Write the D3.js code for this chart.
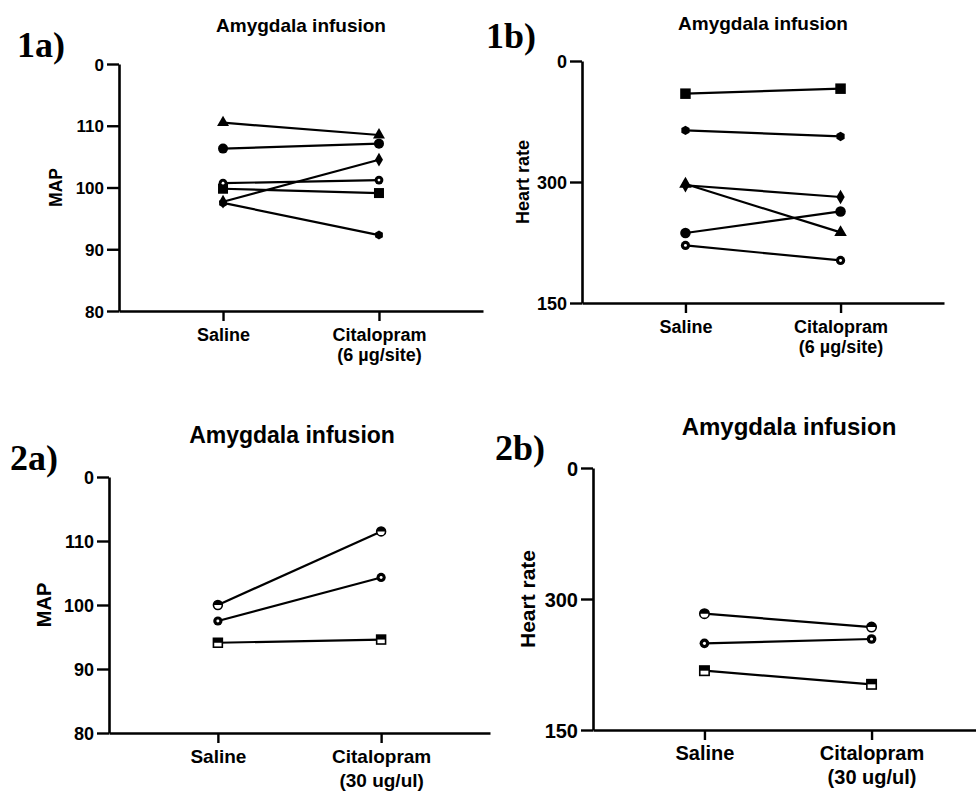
<!DOCTYPE html>
<html><head><meta charset="utf-8">
<script src="https://cdn.jsdelivr.net/npm/d3@7"></script>
<style>body{margin:0;background:#fff} svg{display:block}</style>
</head><body><svg id="fig" width="976" height="791"></svg>
<script>
// Treatment groups on the x axis
const treatments = ["Saline", "Citalopram"];
const doseLow = "(6 µg/site)";
const doseHigh = "(30 ug/ul)";

// Y tick positions and their printed labels
const mapTicks = [80, 90, 100, 110, 120];
const mapTickLabels = ["80", "90", "100", "110", "0"];
const hrTicks = [150, 300, 450];
const hrTickLabels = ["150", "300", "0"];

// Per-animal readings, [Saline, Citalopram]
const lowShapes = ["circle", "square", "triangle", "diamond", "hexagon", "ringdot"];
const mapLowValues = [[106.3, 107.1], [99.8, 99.1], [110.5, 108.5], [97.7, 104.5], [97.5, 92.3], [100.7, 101.2]];
const hrLowValues = [[236.8, 263.5], [409.5, 415.7], [297.5, 237.5], [296.0, 281.4], [364.0, 356.5], [221.4, 202.8]];

const highShapes = ["halfcircle", "ringdot", "halfsquare"];
const mapHighValues = [[100.0, 111.5], [97.5, 104.3], [94.1, 94.6]];
const hrHighValues = [[283.2, 267.9], [249.2, 254.2], [217.9, 202.3]];

const SANS = "'Liberation Sans', Arial, Helvetica, sans-serif";
const SERIF = "'Liberation Serif', 'Times New Roman', serif";

const panels = [
  { tag: "1a)", tagX: 17, tagY: 57, title: "Amygdala infusion", titleX: 301, titleY: 32, titleSize: 19,
    yLabel: "MAP", yLabelX: 56, ticks: mapTicks, tickLabels: mapTickLabels, domain: [80, 120],
    x0: 119, x1: 483, yTop: 64, yBottom: 311, tickSize: 17, catSize: 18, yLabelSize: 17.5, catGap: 20,
    dose: doseLow, shapes: lowShapes, values: mapLowValues, mk: 10 },
  { tag: "1b)", tagX: 486, tagY: 48, title: "Amygdala infusion", titleX: 763, titleY: 30, titleSize: 19,
    yLabel: "Heart rate", yLabelX: 523, ticks: hrTicks, tickLabels: hrTickLabels, domain: [150, 450],
    x0: 582, x1: 944, yTop: 61, yBottom: 303, tickSize: 18, catSize: 18, yLabelSize: 18, catGap: 20,
    dose: doseLow, shapes: lowShapes, values: hrLowValues, mk: 10.5 },
  { tag: "2a)", tagX: 10, tagY: 470, title: "Amygdala infusion", titleX: 292, titleY: 443, titleSize: 23,
    yLabel: "MAP", yLabelX: 44, ticks: mapTicks, tickLabels: mapTickLabels, domain: [80, 120],
    x0: 109, x1: 490, yTop: 477, yBottom: 733, tickSize: 18, catSize: 19, yLabelSize: 20, catGap: 23.5,
    dose: doseHigh, shapes: highShapes, values: mapHighValues, mk: 10.5 },
  { tag: "2b)", tagX: 495, tagY: 460, title: "Amygdala infusion", titleX: 789, titleY: 435, titleSize: 24,
    yLabel: "Heart rate", yLabelX: 527, ticks: hrTicks, tickLabels: hrTickLabels, domain: [150, 450],
    x0: 593, x1: 983, yTop: 468, yBottom: 730, tickSize: 20, catSize: 20, yLabelSize: 21, catGap: 23.5,
    dose: doseHigh, shapes: highShapes, values: hrHighValues, mk: 11 }
];

const svg = d3.select("#fig");

function hexPath(r) {
  const pts = d3.range(6).map(i => {
    const a = Math.PI / 6 + i * Math.PI / 3;
    return [r * Math.cos(a), r * Math.sin(a)];
  });
  return "M" + pts.map(p => p.join(",")).join("L") + "Z";
}

function drawMarker(g, shape, d) {
  const r = d / 2;
  if (shape === "circle") {
    g.append("circle").attr("r", r).attr("fill", "#000");
  } else if (shape === "square") {
    g.append("rect").attr("x", -r).attr("y", -r).attr("width", d).attr("height", d).attr("fill", "#000");
  } else if (shape === "triangle") {
    g.append("path").attr("d", d3.symbol(d3.symbolTriangle, d * d * 0.62)()).attr("fill", "#000");
  } else if (shape === "diamond") {
    g.append("path").attr("d", d3.symbol(d3.symbolDiamond, d * d * 0.55)()).attr("fill", "#000");
  } else if (shape === "hexagon") {
    g.append("path").attr("d", hexPath(r * 0.9)).attr("fill", "#000");
  } else if (shape === "ringdot") {
    g.append("circle").attr("r", r * 0.88).attr("fill", "#000");
    g.append("circle").attr("r", r * 0.28).attr("fill", "#fff");
  } else if (shape === "halfcircle") {
    const rr = r - 0.8;
    g.append("circle").attr("r", rr).attr("fill", "#fff").attr("stroke", "#000").attr("stroke-width", 1.6);
    g.append("path").attr("d", `M${-rr},0A${rr},${rr} 0 0 1 ${rr},0Z`).attr("fill", "#000");
  } else if (shape === "halfsquare") {
    const h = r - 0.8;
    g.append("rect").attr("x", -h).attr("y", -h).attr("width", 2 * h).attr("height", 2 * h)
      .attr("fill", "#fff").attr("stroke", "#000").attr("stroke-width", 1.6);
    g.append("rect").attr("x", -h).attr("y", -h).attr("width", 2 * h).attr("height", h).attr("fill", "#000");
  }
}

panels.forEach(p => {
  const g = svg.append("g");

  const x = d3.scalePoint().domain(treatments).range([p.x0, p.x1]).padding(0.667);
  const y = d3.scaleLinear().domain(p.domain).range([p.yBottom, p.yTop]);

  // y axis
  const yAxis = d3.axisLeft(y).tickValues(p.ticks)
    .tickFormat((v, i) => p.tickLabels[i]).tickSize(12).tickSizeOuter(0).tickPadding(3);
  const gy = g.append("g").attr("transform", `translate(${p.x0},0)`).call(yAxis);

  // x axis
  const xAxis = d3.axisBottom(x).tickSize(10).tickSizeOuter(0).tickPadding(6);
  const gx = g.append("g").attr("transform", `translate(0,${p.yBottom})`).call(xAxis);

  [gy, gx].forEach(a => {
    a.selectAll("path.domain").attr("stroke", "#000").attr("stroke-width", 2.6);
    a.selectAll(".tick line").attr("stroke", "#000").attr("stroke-width", 2.4);
  });
  gy.selectAll(".tick text").attr("font-family", SANS).attr("font-weight", "bold")
    .attr("font-size", p.tickSize).attr("fill", "#000").attr("dy", "0.36em");

  // two-line category labels
  gx.selectAll(".tick text").each(function (d, i) {
    const t = d3.select(this).text(null).attr("y", 0).attr("dy", null)
      .attr("font-family", SANS).attr("font-weight", "bold").attr("font-size", p.catSize).attr("fill", "#000");
    t.append("tspan").attr("x", 0).attr("y", 30).text(d);
    if (i === 1) t.append("tspan").attr("x", 0).attr("y", 30 + p.catGap).text(p.dose);
  });

  // y axis title
  g.append("text")
    .attr("transform", `translate(${p.yLabelX},${(p.yTop + p.yBottom) / 2}) rotate(-90)`)
    .attr("text-anchor", "middle").attr("dominant-baseline", "central")
    .attr("font-family", SANS).attr("font-weight", "bold").attr("font-size", p.yLabelSize)
    .text(p.yLabel);

  // panel title
  g.append("text").attr("x", p.titleX).attr("y", p.titleY).attr("text-anchor", "middle")
    .attr("font-family", SANS).attr("font-weight", "bold").attr("font-size", p.titleSize)
    .text(p.title);

  // panel tag
  g.append("text").attr("x", p.tagX).attr("y", p.tagY)
    .attr("font-family", SERIF).attr("font-weight", "bold").attr("font-size", 36)
    .text(p.tag);

  // paired lines
  const line = d3.line().x((v, i) => x(treatments[i])).y(v => y(v));
  g.append("g").selectAll("path").data(p.values).join("path")
    .attr("d", line).attr("fill", "none").attr("stroke", "#000").attr("stroke-width", 2.2);

  // markers
  p.values.forEach((vals, k) => {
    vals.forEach((v, i) => {
      const m = g.append("g").attr("transform", `translate(${x(treatments[i])},${y(v)})`);
      drawMarker(m, p.shapes[k], p.mk);
    });
  });
});
</script>
</body></html>
